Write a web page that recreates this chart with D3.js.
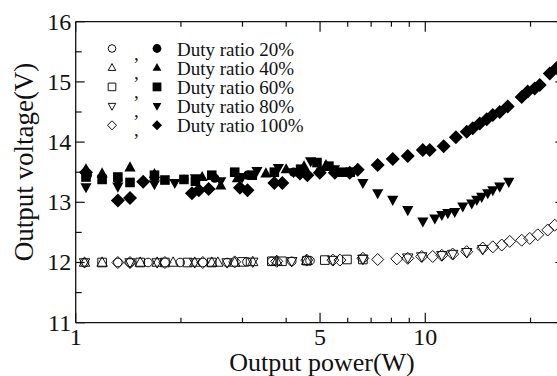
<!DOCTYPE html>
<html><head><meta charset="utf-8">
<script src="https://cdn.jsdelivr.net/npm/d3@7"></script>
<style>
html,body{margin:0;padding:0;background:#fff;}
svg{display:block;font-family:"Liberation Serif","Times New Roman",serif;}
</style></head>
<body><svg id="c" width="557" height="376"></svg>
<script>
// ---- data (output power W, output voltage V) ----
const legendLabels = ["Duty ratio 20%","Duty ratio 40%","Duty ratio 60%","Duty ratio 80%","Duty ratio 100%"];
const xTickValues = [1,5,10];
const yTickValues = [11,12,13,14,15,16];

const open20 = [[1.06,12.0],[1.32,12.0],[1.43,12.0],[1.61,12.0],[1.99,12.0],[2.31,12.0],[2.71,12.0],[3.09,12.01],[3.64,12.02],[4.15,12.02],[4.68,12.03]];
const open40 = [[1.06,12.0],[1.19,12.0],[1.53,12.0],[1.71,12.0],[1.9,12.0],[2.19,12.0],[2.45,12.0],[2.55,12.0],[2.85,12.0],[3.21,12.01],[3.76,12.02],[4.58,12.03]];
const open60 = [[1.19,12.0],[1.53,12.0],[1.8,12.0],[2.09,12.0],[2.45,12.0],[2.99,12.01],[3.64,12.02],[3.89,12.02],[4.58,12.03],[5.16,12.04],[5.97,12.05],[6.63,12.05]];
const open80 = [[1.06,12.0],[1.43,12.0],[1.71,12.0],[2.19,12.0],[2.71,12.0],[3.21,12.01],[4.15,12.02],[5.44,12.04],[6.63,12.06],[8.91,12.08],[9.77,12.1],[11.15,12.12],[11.98,12.14],[13.14,12.17],[14.6,12.22]];
const open100 = [[1.32,12.0],[1.43,12.0],[1.8,12.0],[2.31,12.0],[2.85,12.01],[3.76,12.02],[4.58,12.04],[5.44,12.04],[5.7,12.04],[6.63,12.07],[7.31,12.05],[8.29,12.06],[8.91,12.07],[9.77,12.1],[10.5,12.1],[11.15,12.12],[11.98,12.14],[13.14,12.18],[14.6,12.24],[15.6,12.26],[16.55,12.29],[17.44,12.35],[18.87,12.37],[19.9,12.4],[20.97,12.46],[22.4,12.54],[23.45,12.62]];

const fill20 = [[1.08,13.45],[1.32,13.38],[1.68,13.42],[2.04,13.38],[2.5,13.4],[3.1,13.45],[4.2,13.5],[5.0,13.52]];
const fill40 = [[1.07,13.55],[1.19,13.48],[1.43,13.58],[1.68,13.47],[2.3,13.42],[2.6,13.28],[2.9,13.4],[3.5,13.48],[4.0,13.55],[4.5,13.6],[5.2,13.62]];
const fill60 = [[1.07,13.42],[1.19,13.38],[1.32,13.42],[1.43,13.33],[1.68,13.45],[1.8,13.37],[2.04,13.38],[2.2,13.35],[2.45,13.45],[2.85,13.5],[3.2,13.45],[3.7,13.5],[4.4,13.55],[4.9,13.66],[5.3,13.6],[5.8,13.5],[6.1,13.5]];
const fill80 = [[1.07,13.25],[1.32,13.26],[1.68,13.3],[1.92,13.32],[2.2,13.4],[2.6,13.35],[3.0,13.42],[3.3,13.52],[3.8,13.57],[4.2,13.5],[4.7,13.68],[5.5,13.55],[6.63,13.32],[7.31,13.15],[8.07,13.04],[8.91,12.87],[9.84,12.68],[10.65,12.73],[11.15,12.79],[11.6,12.82],[12.14,12.84],[12.8,12.93],[13.58,12.98],[14.04,13.04],[14.5,13.09],[15.09,13.15],[15.6,13.2],[16.33,13.26],[17.33,13.34]];
const fill100 = [[1.07,13.5],[1.32,13.03],[1.43,13.07],[1.56,13.34],[2.15,13.15],[2.25,13.2],[2.4,13.22],[2.95,13.24],[3.1,13.2],[3.7,13.32],[3.9,13.32],[4.38,13.48],[4.6,13.45],[4.99,13.49],[5.51,13.49],[6.08,13.49],[6.41,13.54],[7.31,13.62],[8.07,13.72],[8.91,13.77],[9.84,13.87],[10.3,13.87],[11.29,13.93],[12.23,14.08],[13.14,14.17],[13.67,14.23],[14.31,14.31],[14.99,14.38],[15.6,14.45],[16.33,14.5],[17.21,14.59],[18.87,14.75],[19.63,14.84],[20.56,14.89],[21.25,14.95],[22.7,15.14],[23.76,15.23]];

// ---- layout ----
const svg = d3.select("#c");
const L = 75.7, R = 564.4, T = 21.7, B = 322.7;
const x = d3.scaleLog().domain([1,25]).range([L,R]);
const y = d3.scaleLinear().domain([11,16]).range([B,T]);
const fontStack = '"Liberation Serif","Times New Roman",serif';

// marker path generators
function shapePath(kind, s){
  switch(kind){
    case "circle": return `M${s},0A${s},${s} 0 1,1 ${-s},0A${s},${s} 0 1,1 ${s},0Z`;
    case "square": return `M${-s},${-s}H${s}V${s}H${-s}Z`;
    case "up": { const h=s*1.8; return `M0,${-h*0.6}L${s},${h*0.4}L${-s},${h*0.4}Z`; }
    case "down": { const h=s*1.8; return `M0,${h*0.6}L${s},${-h*0.4}L${-s},${-h*0.4}Z`; }
    case "diamond": return `M0,${-s}L${s},0L0,${s}L${-s},0Z`;
  }
}
const kinds = ["circle","up","square","down","diamond"];
const openSize = {circle:4.3,up:5.2,square:4.3,down:5.2,diamond:6};
const fillSize = {circle:4.6,up:5.6,square:4.8,down:5.6,diamond:7};

// axes
const gAx = svg.append("g").attr("stroke","#111").attr("fill","none").attr("stroke-width",1.3);
gAx.append("line").attr("x1",L).attr("x2",R).attr("y1",B).attr("y2",B);
gAx.append("line").attr("x1",L).attr("x2",R).attr("y1",T).attr("y2",T);
gAx.append("line").attr("x1",L).attr("x2",L).attr("y1",T).attr("y2",B);
gAx.append("line").attr("x1",R).attr("x2",R).attr("y1",T).attr("y2",B);

const xMinor = [2,3,4,6,7,8,9,20];
const yMinor = d3.range(11.5,16,1);
const tk = svg.append("g").attr("stroke","#111").attr("stroke-width",1.2);
xTickValues.forEach(v=>{
  tk.append("line").attr("x1",x(v)).attr("x2",x(v)).attr("y1",B).attr("y2",B-10);
  tk.append("line").attr("x1",x(v)).attr("x2",x(v)).attr("y1",T).attr("y2",T+10);
});
xMinor.forEach(v=>{
  tk.append("line").attr("x1",x(v)).attr("x2",x(v)).attr("y1",B).attr("y2",B-5);
  tk.append("line").attr("x1",x(v)).attr("x2",x(v)).attr("y1",T).attr("y2",T+5);
});
yTickValues.forEach(v=>{
  tk.append("line").attr("x1",L).attr("x2",L+9).attr("y1",y(v)).attr("y2",y(v));
  tk.append("line").attr("x1",R).attr("x2",R-9).attr("y1",y(v)).attr("y2",y(v));
});
yMinor.forEach(v=>{
  tk.append("line").attr("x1",L).attr("x2",L+6).attr("y1",y(v)).attr("y2",y(v));
  tk.append("line").attr("x1",R).attr("x2",R-6).attr("y1",y(v)).attr("y2",y(v));
});

// tick labels
svg.append("g").selectAll("text").data(xTickValues).join("text")
  .attr("x",d=>x(d)).attr("y",B+22.5).attr("text-anchor","middle")
  .attr("font-size",24).attr("fill","#111").text(d=>d);
svg.append("g").selectAll("text").data(yTickValues).join("text")
  .attr("x",L-4.5).attr("y",d=>y(d)).attr("dy","0.33em").attr("text-anchor","end")
  .attr("font-size",24).attr("fill","#111").text(d=>d);

// axis titles
svg.append("text").attr("x",322).attr("y",371).attr("text-anchor","middle")
  .attr("font-size",26).attr("fill","#111").text("Output power(W)");
svg.append("text").attr("transform","translate(33,162) rotate(-90)").attr("text-anchor","middle")
  .attr("font-size",27).attr("fill","#111").text("Output voltage(V)");

// data
const openSets = [open20,open40,open60,open80,open100];
const fillSets = [fill20,fill40,fill60,fill80,fill100];
const gData = svg.append("g");
openSets.forEach((set,i)=>{
  const k = kinds[i];
  gData.append("g").selectAll("path").data(set).join("path")
    .attr("transform",d=>`translate(${x(d[0])},${y(d[1])})`)
    .attr("d",shapePath(k,openSize[k])).attr("fill","none").attr("stroke","#111").attr("stroke-width",1);
});
fillSets.forEach((set,i)=>{
  const k = kinds[i];
  gData.append("g").selectAll("path").data(set).join("path")
    .attr("transform",d=>`translate(${x(d[0])},${y(d[1])})`)
    .attr("d",shapePath(k,fillSize[k])).attr("fill","#000").attr("stroke","none");
});

// legend
const lg = svg.append("g");
legendLabels.forEach((lab,i)=>{
  const cy = 48.5 + i*19.2;
  const k = kinds[i];
  lg.append("path").attr("transform",`translate(112,${cy})`).attr("d",shapePath(k,k==="diamond"?4.5:3.8))
    .attr("fill","none").attr("stroke","#111").attr("stroke-width",1);
  lg.append("path").attr("transform",`translate(157,${cy})`).attr("d",shapePath(k,k==="diamond"?5:4.4))
    .attr("fill","#000");
  lg.append("text").attr("x",134).attr("y",cy+11).attr("font-size",19).attr("fill","#111").text(",");
  lg.append("text").attr("x",177).attr("y",cy+7).attr("font-size",19).attr("fill","#111").text(lab);
});
</script></body></html>
